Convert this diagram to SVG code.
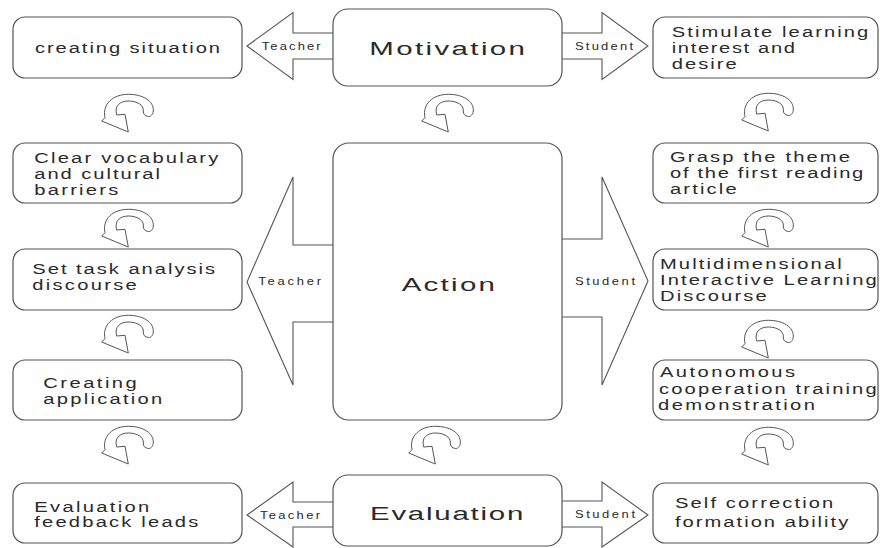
<svg xmlns="http://www.w3.org/2000/svg" xmlns:xlink="http://www.w3.org/1999/xlink" width="880" height="548" viewBox="0 0 880 548">
<style>
.box{fill:#fff;stroke:#555;stroke-width:1.2}
.arr{fill:#fff;stroke:#555;stroke-width:1.1;stroke-linejoin:miter}
.cyc{fill:#fff;stroke:#555;stroke-width:1}
text{font-family:"Liberation Sans",Arial,sans-serif;fill:#2a2a2a}
.t{font-size:15.5px}
.lab{font-size:10px}
.big{font-size:19px}
</style>
<defs>
<path id="cycle" class="cyc" d="M0.7,29 L4,25.7 C1,12 12,2.3 27.3,2.3 C42,2.3 53,9 52.3,19 C52,23 49,25 47.3,24.5 C44,24 42,22 42.3,19 C43,13 36,9 27.3,9 C19,9 13,14 15.7,23 L24,22.3 L27.3,40 Z"/>
</defs>
<rect width="880" height="548" fill="#fff"/>
<g id="connectors">
  <path class="arr" d="M333,33 H293 V12.5 L247,46 L293,79.5 V59 H333"/>
  <path class="arr" d="M562,33 H602 V12.5 L648,46 L602,79.5 V59 H562"/>
  <path class="arr" d="M333,245 H293 V177 L247,282 L293,385 V322 H333"/>
  <path class="arr" d="M562,239 H602 V177 L648,281 L602,385 V317 H562"/>
  <path class="arr" d="M333,502 H293 V482 L247,515 L293,547 V527 H333"/>
  <path class="arr" d="M562,501 H602 V482 L648,515 L602,547 V527 H562"/>
  <text class="lab" transform="scale(1.3 1)" x="201.31" y="50" textLength="45.38" lengthAdjust="spacing">Teacher</text>
  <text class="lab" transform="scale(1.3 1)" x="442.31" y="50" textLength="44.62" lengthAdjust="spacing">Student</text>
  <text class="lab" transform="scale(1.3 1)" x="198.69" y="285" textLength="48.23" lengthAdjust="spacing">Teacher</text>
  <text class="lab" transform="scale(1.3 1)" x="442.31" y="285" textLength="46.15" lengthAdjust="spacing">Student</text>
  <text class="lab" transform="scale(1.3 1)" x="200" y="519" textLength="46.15" lengthAdjust="spacing">Teacher</text>
  <text class="lab" transform="scale(1.3 1)" x="442.31" y="518.3" textLength="46.15" lengthAdjust="spacing">Student</text>
  <use xlink:href="#cycle" href="#cycle" x="101" y="92"/>
  <use xlink:href="#cycle" href="#cycle" x="101" y="207"/>
  <use xlink:href="#cycle" href="#cycle" x="101" y="313"/>
  <use xlink:href="#cycle" href="#cycle" x="101" y="424"/>
  <use xlink:href="#cycle" href="#cycle" x="741" y="91"/>
  <use xlink:href="#cycle" href="#cycle" x="741" y="207"/>
  <use xlink:href="#cycle" href="#cycle" x="741" y="318"/>
  <use xlink:href="#cycle" href="#cycle" x="741" y="425"/>
  <use xlink:href="#cycle" href="#cycle" x="421" y="92"/>
  <use xlink:href="#cycle" href="#cycle" x="408" y="424"/>
</g>
<g id="motivation">
  <rect class="box" x="333" y="9" width="229" height="77" rx="15"/>
  <text class="big" transform="scale(1.55 1)" x="238.26" y="55" textLength="100.45" lengthAdjust="spacing">Motivation</text>
</g>
<g id="action">
  <rect class="box" x="333" y="143" width="229" height="277" rx="16"/>
  <text class="big" transform="scale(1.55 1)" x="259.16" y="290.7" textLength="60.19" lengthAdjust="spacing">Action</text>
</g>
<g id="evaluation">
  <rect class="box" x="333" y="475" width="229" height="71" rx="15"/>
  <text class="big" transform="scale(1.55 1)" x="238.71" y="520" textLength="98.9" lengthAdjust="spacing">Evaluation</text>
</g>
<g id="creating-situation">
  <rect class="box" x="13" y="17" width="229" height="61" rx="12"/>
  <text class="t" transform="scale(1.3 1)" x="26.92" y="52.7" textLength="142.31" lengthAdjust="spacing">creating situation</text>
</g>
<g id="clear-vocabulary">
  <rect class="box" x="13" y="143" width="229" height="60" rx="12"/>
  <text class="t" transform="scale(1.3 1)" x="26.38" y="163.3" textLength="141.54" lengthAdjust="spacing">Clear vocabulary</text>
  <text class="t" transform="scale(1.3 1)" x="26.38" y="179.3" textLength="96.69" lengthAdjust="spacing">and cultural</text>
  <text class="t" transform="scale(1.3 1)" x="26.38" y="195" textLength="64.62" lengthAdjust="spacing">barriers</text>
</g>
<g id="set-task">
  <rect class="box" x="13" y="249" width="229" height="61" rx="12"/>
  <text class="t" transform="scale(1.3 1)" x="24.85" y="274" textLength="140.54" lengthAdjust="spacing">Set task analysis</text>
  <text class="t" transform="scale(1.3 1)" x="24.85" y="290" textLength="80.31" lengthAdjust="spacing">discourse</text>
</g>
<g id="creating-application">
  <rect class="box" x="13" y="360" width="229" height="60" rx="12"/>
  <text class="t" transform="scale(1.3 1)" x="33.31" y="388.3" textLength="71.85" lengthAdjust="spacing">Creating</text>
  <text class="t" transform="scale(1.3 1)" x="33.31" y="404" textLength="91.54" lengthAdjust="spacing">application</text>
</g>
<g id="evaluation-feedback">
  <rect class="box" x="13" y="483" width="229" height="60" rx="12"/>
  <text class="t" transform="scale(1.3 1)" x="26.38" y="511.7" textLength="88.46" lengthAdjust="spacing">Evaluation</text>
  <text class="t" transform="scale(1.3 1)" x="26.38" y="527.3" textLength="126.15" lengthAdjust="spacing">feedback leads</text>
</g>
<g id="stimulate">
  <rect class="box" x="653" y="17" width="225" height="61" rx="12"/>
  <text class="t" transform="scale(1.3 1)" x="516.69" y="36.7" textLength="151.23" lengthAdjust="spacing">Stimulate learning</text>
  <text class="t" transform="scale(1.3 1)" x="516.69" y="53" textLength="94.85" lengthAdjust="spacing">interest and</text>
  <text class="t" transform="scale(1.3 1)" x="516.69" y="69.5" textLength="50" lengthAdjust="spacing">desire</text>
</g>
<g id="grasp-theme">
  <rect class="box" x="653" y="143" width="225" height="60" rx="12"/>
  <text class="t" transform="scale(1.3 1)" x="515.38" y="162.3" textLength="138.46" lengthAdjust="spacing">Grasp the theme</text>
  <text class="t" transform="scale(1.3 1)" x="515.38" y="178.3" textLength="148.69" lengthAdjust="spacing">of the first reading</text>
  <text class="t" transform="scale(1.3 1)" x="515.38" y="194" textLength="51.31" lengthAdjust="spacing">article</text>
</g>
<g id="multidimensional">
  <rect class="box" x="653" y="249" width="225" height="61" rx="12"/>
  <text class="t" transform="scale(1.3 1)" x="507.69" y="269.3" textLength="139.77" lengthAdjust="spacing">Multidimensional</text>
  <text class="t" transform="scale(1.3 1)" x="507.69" y="285" textLength="166.69" lengthAdjust="spacing">Interactive Learning</text>
  <text class="t" transform="scale(1.3 1)" x="507.69" y="301" textLength="82.08" lengthAdjust="spacing">Discourse</text>
</g>
<g id="autonomous">
  <rect class="box" x="653" y="360" width="225" height="60" rx="12"/>
  <text class="t" transform="scale(1.3 1)" x="507.69" y="377.5" textLength="103.85" lengthAdjust="spacing">Autonomous</text>
  <text class="t" transform="scale(1.3 1)" x="506.92" y="394" textLength="167.46" lengthAdjust="spacing">cooperation training</text>
  <text class="t" transform="scale(1.3 1)" x="506.15" y="410.5" textLength="120.77" lengthAdjust="spacing">demonstration</text>
</g>
<g id="self-correction">
  <rect class="box" x="653" y="483" width="225" height="60" rx="12"/>
  <text class="t" transform="scale(1.3 1)" x="519.23" y="508.3" textLength="121.77" lengthAdjust="spacing">Self correction</text>
  <text class="t" transform="scale(1.3 1)" x="519.23" y="526.7" textLength="133.31" lengthAdjust="spacing">formation ability</text>
</g>
</svg>
